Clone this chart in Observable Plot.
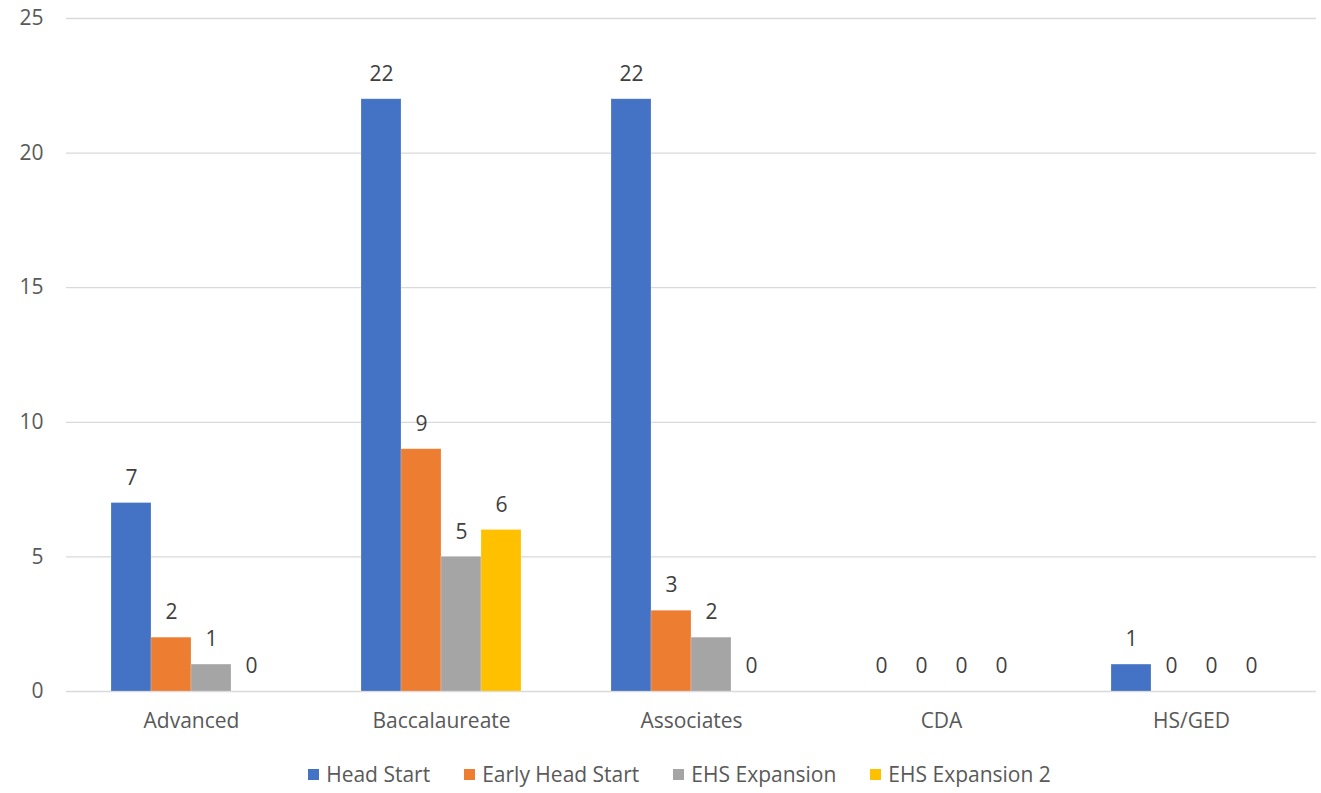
<!DOCTYPE html>
<html>
<head>
<meta charset="utf-8">
<script src="https://cdn.jsdelivr.net/npm/d3@7"></script>
<script src="https://cdn.jsdelivr.net/npm/@observablehq/plot@0.6"></script>
<style>
  html, body { margin: 0; padding: 0; background: #fff; }
  #chart { width: 1321px; }
  .legend { display: flex; justify-content: center; align-items: center; height: 44px; font-family: "Open Sans", sans-serif; font-size: 21px; color: #595959; margin-left: 38px; }
  .legend .item { display: flex; align-items: center; margin: 0 17px; }
  .legend .sw { width: 11px; height: 11px; margin-right: 7px; }
</style>
</head>
<body>
<div id="chart"></div>
<script>
const categories = ["Advanced", "Baccalaureate", "Associates", "CDA", "HS/GED"];
const series = ["Head Start", "Early Head Start", "EHS Expansion", "EHS Expansion 2"];
const colors = ["#4472C4", "#ED7D31", "#A5A5A5", "#FFC000"];
const headStart = [7, 22, 22, 0, 1];
const earlyHeadStart = [2, 9, 3, 0, 0];
const ehsExpansion = [1, 5, 2, 0, 0];
const ehsExpansion2 = [0, 6, 0, 0, 0];
const yTicks = [0, 5, 10, 15, 20, 25];

const valuesBySeries = [headStart, earlyHeadStart, ehsExpansion, ehsExpansion2];
const data = [];
categories.forEach((c, i) => {
  series.forEach((s, j) => {
    data.push({category: c, series: s, value: valuesBySeries[j][i]});
  });
});

const font = "'Open Sans', sans-serif";
const plot = Plot.plot({
  width: 1321,
  height: 752,
  marginLeft: 66,
  marginRight: 5,
  marginTop: 18,
  marginBottom: 61,
  style: {fontFamily: font, fontSize: "21px", color: "#595959", background: "#fff"},
  fx: {domain: categories, padding: 0, label: null, axis: null},
  x: {domain: series, paddingInner: 0, paddingOuter: 1.125, axis: null},
  y: {domain: [0, 25], ticks: yTicks, axis: null},
  color: {domain: series, range: colors},
  marks: [
    Plot.ruleY(yTicks, {y: d => d, stroke: "#d9d9d9", strokeWidth: 1.3}),
    Plot.barY(data, {fx: "category", x: "series", y: "value", fill: "series", stroke: "#ffffff", strokeOpacity: 0.35, strokeWidth: 0.6}),
    Plot.text(data, {fx: "category", x: "series", y: "value", text: d => String(d.value), dy: -25, lineAnchor: "middle", fill: "#404040", fontSize: 21}),
    Plot.text(categories, {fx: d => d, frameAnchor: "bottom", lineAnchor: "middle", dy: 30, text: d => d, fill: "#595959", fontSize: 21}),
    Plot.text(yTicks, {fx: () => categories[0], frameAnchor: "left", y: d => d, dx: -23, textAnchor: "end", lineAnchor: "middle", text: d => String(d), fill: "#595959", fontSize: 21})
  ]
});
document.getElementById("chart").appendChild(plot);

const legend = document.createElement("div");
legend.className = "legend";
series.forEach((s, i) => {
  const it = document.createElement("div");
  it.className = "item";
  const sw = document.createElement("span");
  sw.className = "sw";
  sw.style.background = colors[i];
  const t = document.createElement("span");
  t.textContent = s;
  it.appendChild(sw); it.appendChild(t);
  legend.appendChild(it);
});
document.getElementById("chart").appendChild(legend);
</script>
</body>
</html>
